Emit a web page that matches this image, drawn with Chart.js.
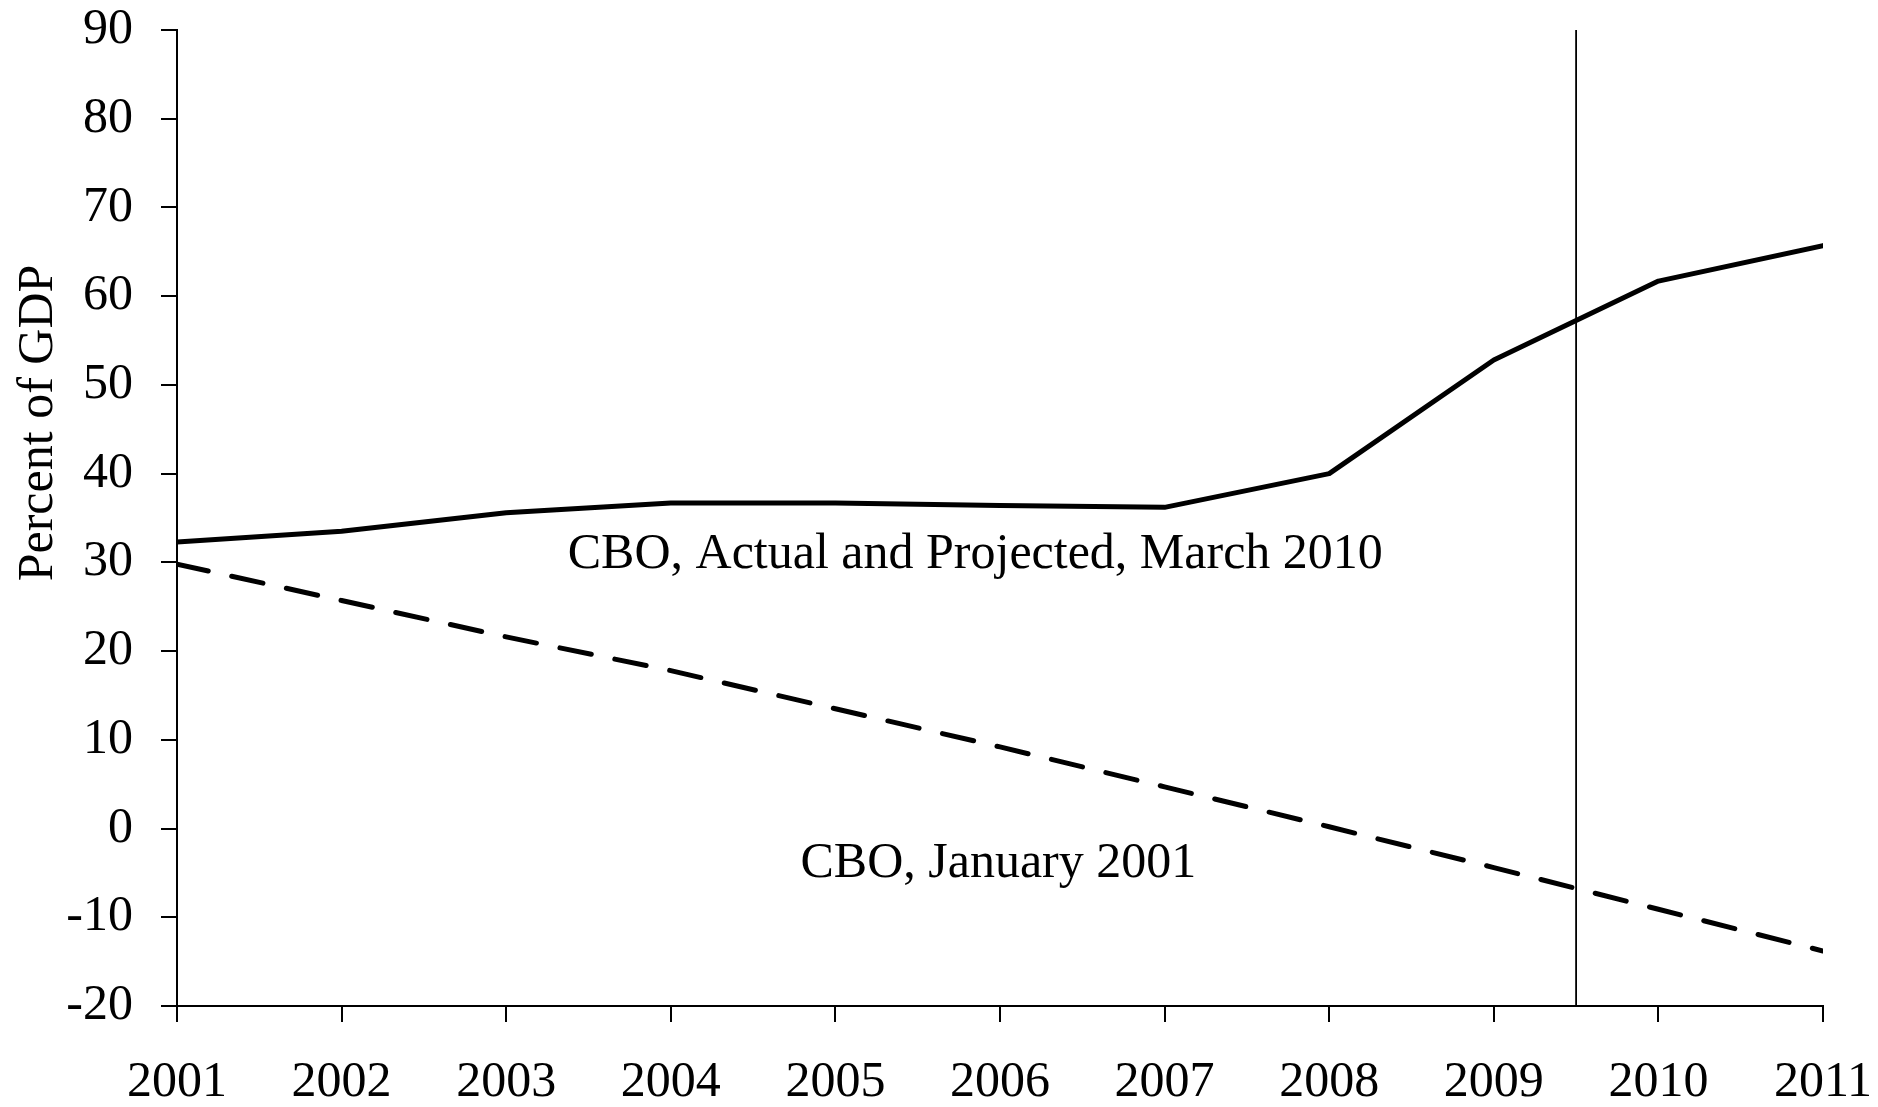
<!DOCTYPE html>
<html>
<head>
<meta charset="utf-8">
<script src="https://cdn.jsdelivr.net/npm/chart.js@4/dist/chart.umd.min.js"></script>
<style>
  html, body { margin: 0; padding: 0; background: #fff; }
  #wrap { position: relative; width: 1878px; height: 1107px; }
</style>
</head>
<body>
<div id="wrap"><canvas id="chart"></canvas></div>
<script>
// years on the x axis
const years = [2001, 2002, 2003, 2004, 2005, 2006, 2007, 2008, 2009, 2010, 2011];
// CBO, Actual and Projected, March 2010 (percent of GDP)
const actualMarch2010 = [32.3, 33.5, 35.6, 36.7, 36.7, 36.4, 36.2, 40.0, 52.8, 61.7, 65.7];
// CBO, January 2001 projection
const projJan2001 = [29.8, 25.7, 21.6, 17.8, 13.5, 9.2, 4.7, 0.2, -4.4, -9.1, -13.8];
// divider between actual and projected
const dividerYear = 2009.5;
const yTicks = { min: -20, max: 90, step: 10 };

const serif = "'Liberation Serif', 'Times New Roman', serif";

// free text: axis title and series labels
const textPlugin = {
  id: 'textPlugin',
  afterDraw(chart) {
    const { ctx, scales: { x, y } } = chart;
    ctx.save();
    ctx.fillStyle = '#000';
    ctx.font = '50px ' + serif;
    ctx.textAlign = 'center';
    ctx.textBaseline = 'alphabetic';
    ctx.fillText('CBO, Actual and Projected, March 2010', x.getPixelForValue(2005.85), y.getPixelForValue(29.4));
    ctx.fillText('CBO, January 2001', x.getPixelForValue(2005.99), y.getPixelForValue(-5.5));
    // y axis title
    ctx.translate(52, 423);
    ctx.rotate(-Math.PI / 2);
    ctx.fillText('Percent of GDP', 0, 0);
    ctx.restore();
  }
};

const ctx = document.getElementById('chart').getContext('2d');
new Chart(ctx, {
  type: 'line',
  data: {
    datasets: [
      {
        label: 'CBO, Actual and Projected, March 2010',
        data: years.map((yr, i) => ({ x: yr, y: actualMarch2010[i] })),
        borderColor: '#000',
        borderWidth: 5,
        borderCapStyle: 'round',
        borderJoinStyle: 'round',
        pointRadius: 0,
        fill: false,
        tension: 0,
      },
      {
        label: 'CBO, January 2001',
        data: years.map((yr, i) => ({ x: yr, y: projJan2001[i] })),
        borderColor: '#000',
        borderWidth: 5,
        borderDash: [32, 24],
        borderCapStyle: 'round',
        pointRadius: 0,
        fill: false,
        tension: 0,
      },
      {
        label: 'divider',
        data: [{ x: dividerYear, y: yTicks.max }, { x: dividerYear, y: yTicks.min }],
        borderColor: '#000',
        borderWidth: 1.8,
        pointRadius: 0,
        fill: false,
      },
    ],
  },
  options: {
    responsive: true,
    maintainAspectRatio: false,
    animation: false,
    layout: { padding: { top: 30, right: 55, left: 0, bottom: 0 } },
    scales: {
      x: {
        type: 'linear',
        min: years[0],
        max: years[years.length - 1],
        afterFit: (s) => { s.height = 101; s.paddingLeft = 0; s.paddingRight = 0; },
        border: { display: true, color: '#000', width: 2 },
        grid: { drawOnChartArea: false, drawTicks: true, tickLength: 16, color: '#000', lineWidth: 2 },
        ticks: {
          stepSize: 1,
          autoSkip: false,
          maxRotation: 0,
          padding: 31,
          color: '#000',
          font: { family: serif, size: 50 },
          callback: (v) => String(v),
        },
      },
      y: {
        min: yTicks.min,
        max: yTicks.max,
        afterFit: (s) => { s.width = 177; s.paddingTop = 0; s.paddingBottom = 0; },
        border: { display: true, color: '#000', width: 2 },
        grid: { drawOnChartArea: false, drawTicks: true, tickLength: 16, color: '#000', lineWidth: 2 },
        ticks: {
          stepSize: yTicks.step,
          padding: 28,
          color: '#000',
          font: { family: serif, size: 50 },
        },
      },
    },
    plugins: {
      legend: { display: false },
      tooltip: { enabled: false },
    },
  },
  plugins: [textPlugin],
});
</script>
</body>
</html>
